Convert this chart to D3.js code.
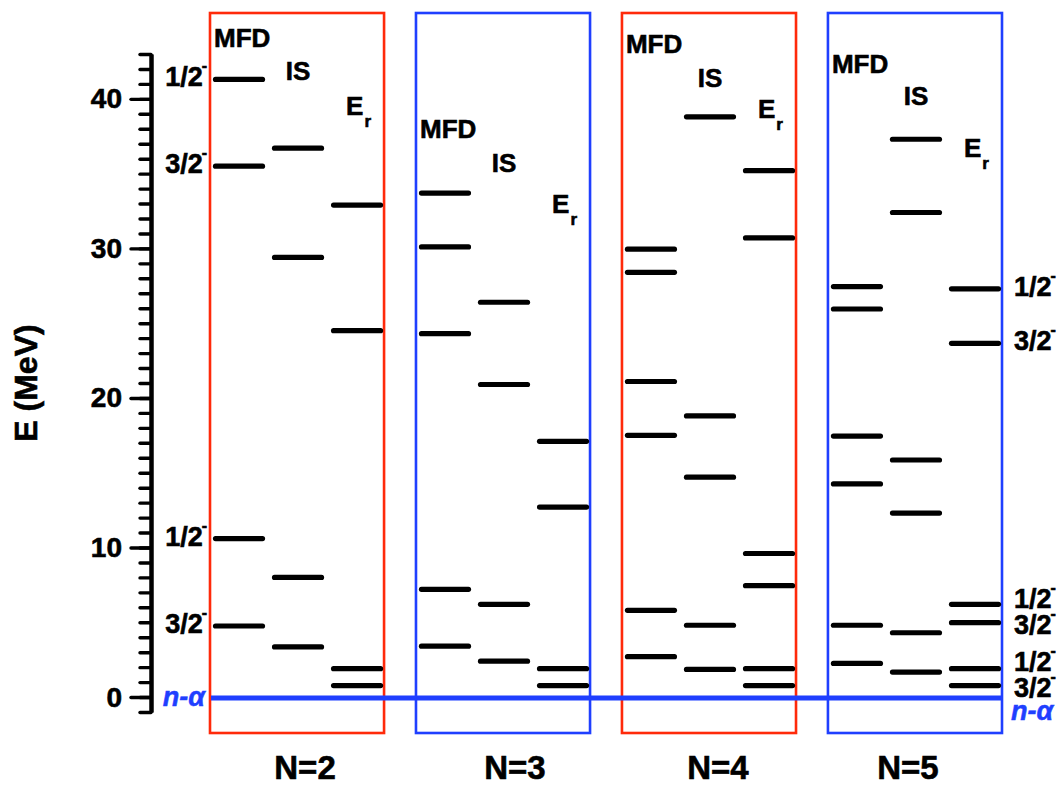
<!DOCTYPE html>
<html>
<head>
<meta charset="utf-8">
<script src="https://d3js.org/d3.v7.min.js"></script>
<style>
  html, body { margin: 0; padding: 0; background: #fff; }
  svg { display: block; font-family: "Liberation Sans", Arial, Helvetica, sans-serif; }
  text { font-weight: bold; }
  text.ink { stroke: #000; stroke-width: 0.6px; }
</style>
</head>
<body>
<script>
// Panels (number of valence neutrons) and the three methods compared in each
const panels = ["N=2", "N=3", "N=4", "N=5"];
const methods = ["MFD", "IS", "Er"];

// Level energies in MeV, one array per panel
const mfdLevels = [
  [41.3, 35.5, 10.6, 4.75],
  [33.7, 30.1, 24.3, 7.2, 3.4],
  [29.95, 28.4, 21.1, 17.5, 5.8, 2.7],
  [27.45, 25.95, 17.45, 14.25, 4.8, 2.25]
];
const isLevels = [
  [36.7, 29.4, 8.0, 3.35],
  [26.4, 20.9, 6.2, 2.4],
  [38.8, 18.8, 14.7, 4.8, 1.85],
  [37.3, 32.4, 15.85, 12.3, 4.3, 1.67]
];
const erLevels = [
  [32.9, 24.5, 1.9, 0.77],
  [17.1, 12.7, 1.9, 0.77],
  [35.2, 30.7, 9.6, 7.45, 1.9, 0.77],
  [27.3, 23.65, 6.2, 4.97, 1.9, 0.77]
];

// Spin-parity labels: on the MFD levels of N=2 and the Er levels of N=5
const leftJpi = ["1/2", "3/2", "1/2", "3/2"];
const rightJpi = ["1/2", "3/2", "1/2", "3/2", "1/2", "3/2"];

// n-alpha threshold energy
const threshold = 0;

// Axis ticks
const majorTicks = [0, 10, 20, 30, 40];
const minorTicks = d3.range(-1, 44, 1);

// ---- layout & style ----
const W = 1064, H = 787;
const RED = "#ff2a0a", BLUE = "#1f3fff";
const boxColors = [RED, BLUE, RED, BLUE];
const headerBaselines = [[47, 80, 115], [138, 172, 213], [53, 87, 118], [73, 105, 157]];
const footerShift = [8, 12, 9, -7];
const footerBaseline = [779, 779, 779, 779];

const svg = d3.select("body").append("svg")
  .attr("width", W).attr("height", H);

const y = d3.scaleLinear().domain([-1, 43]).range([712, 54]);
const xPanel = d3.scaleBand().domain(panels).range([210, 1002]).paddingInner(0.155);
const bw = xPanel.bandwidth();
const xCol = d3.scaleBand().domain(methods).range([3, bw - 1]).paddingInner(0.119);
const cw = xCol.bandwidth();

// ---- y axis ----
const axisX = 151;
const minorAxis = d3.axisLeft(y).tickValues(minorTicks).tickSize(11).tickSizeOuter(0).tickFormat("");
const majorAxis = d3.axisLeft(y).tickValues(majorTicks).tickSize(20).tickSizeOuter(0).tickPadding(9)
  .tickFormat(d3.format("d"));

const gMinor = svg.append("g").attr("transform", `translate(${axisX},0)`).call(minorAxis);
const gMajor = svg.append("g").attr("transform", `translate(${axisX},0)`).call(majorAxis);
[gMinor, gMajor].forEach(g => {
  g.select(".domain").attr("stroke", "#000").attr("stroke-width", 4);
  g.selectAll(".tick line").attr("stroke", "#000").attr("stroke-width", 3.4).attr("stroke-linecap", "round");
});
gMajor.selectAll(".tick text")
  .attr("class", "ink")
  .attr("font-size", 28).attr("font-weight", "bold").attr("fill", "#000")
  .attr("font-family", "Liberation Sans, Arial, sans-serif");

svg.append("text")
  .attr("class", "ink")
  .attr("transform", `translate(37,${(y(-1) + y(43)) / 2}) rotate(-90)`)
  .attr("text-anchor", "middle")
  .attr("font-size", 32)
  .text("E (MeV)");

// ---- panel frames ----
panels.forEach((p, i) => {
  svg.append("rect")
    .attr("x", xPanel(p)).attr("y", 13)
    .attr("width", bw).attr("height", 720)
    .attr("fill", "none")
    .attr("stroke", boxColors[i]).attr("stroke-width", 2.6);
});

// ---- threshold line ----
svg.append("line")
  .attr("x1", xPanel(panels[0]) + 1).attr("x2", xPanel(panels[3]) + bw)
  .attr("y1", y(threshold) + 1).attr("y2", y(threshold) + 1)
  .attr("stroke", BLUE).attr("stroke-width", 5);

// ---- levels ----
const bySet = { MFD: mfdLevels, IS: isLevels, Er: erLevels };
panels.forEach((p, i) => {
  methods.forEach(m => {
    const x0 = xPanel(p) + xCol(m);
    svg.append("g").selectAll("line")
      .data(bySet[m][i])
      .join("line")
      .attr("x1", x0 + 2.5).attr("x2", x0 + cw - 2.5)
      .attr("y1", d => y(d)).attr("y2", d => y(d))
      .attr("stroke", "#000").attr("stroke-width", 5.2)
      .attr("stroke-linecap", "round");
  });

  // column headers
  const hb = headerBaselines[i];
  svg.append("text").attr("class", "ink").attr("x", xPanel(p) + 4).attr("y", hb[0])
    .attr("font-size", 26).text("MFD");
  svg.append("text").attr("class", "ink").attr("x", xPanel(p) + xCol("IS") + cw / 2).attr("y", hb[1])
    .attr("text-anchor", "middle").attr("font-size", 26).text("IS");
  const er = svg.append("text").attr("class", "ink").attr("x", xPanel(p) + xCol("Er") + cw / 2 - 11).attr("y", hb[2])
    .attr("font-size", 26);
  er.append("tspan").text("E");
  er.append("tspan").attr("font-size", 17).attr("dy", 12).attr("dx", 1).text("r");

  // panel caption
  svg.append("text").attr("class", "ink")
    .attr("x", xPanel(p) + bw / 2 + footerShift[i]).attr("y", footerBaseline[i])
    .attr("text-anchor", "middle").attr("font-size", 33).text(p);
});

// ---- spin-parity labels ----
function spread(vals, gap) {
  const c = vals.map(v => y(v) - 3);
  for (let it = 0; it < 50; it++) {
    for (let k = 0; k < c.length - 1; k++) {
      const d = c[k + 1] - c[k];
      if (d < gap) { const s = (gap - d) / 2; c[k] -= s; c[k + 1] += s; }
    }
  }
  return c;
}
function jpiLabel(x, cy, txt, anchor) {
  const t = svg.append("text").attr("class", "ink").attr("x", x).attr("y", cy + 10)
    .attr("text-anchor", anchor).attr("font-size", 27);
  t.append("tspan").text(txt);
  t.append("tspan").attr("font-size", 16).attr("dy", -15).attr("dx", -1).text("-");
}
const leftE = mfdLevels[0];
spread(leftE, 26).forEach((cy, k) => jpiLabel(207, cy, leftJpi[k], "end"));
const rightE = erLevels[3];
spread(rightE, 26).forEach((cy, k) => jpiLabel(1014, cy, rightJpi[k], "start"));

// ---- threshold labels ----
svg.append("text").attr("x", 205).attr("y", y(threshold) + 9)
  .attr("text-anchor", "end").attr("font-size", 27).attr("font-style", "italic")
  .attr("fill", BLUE).attr("stroke", BLUE).attr("stroke-width", 0.5).text("n-α");
svg.append("text").attr("x", 1011).attr("y", y(threshold) + 23)
  .attr("text-anchor", "start").attr("font-size", 27).attr("font-style", "italic")
  .attr("fill", BLUE).attr("stroke", BLUE).attr("stroke-width", 0.5).text("n-α");
</script>
</body>
</html>
